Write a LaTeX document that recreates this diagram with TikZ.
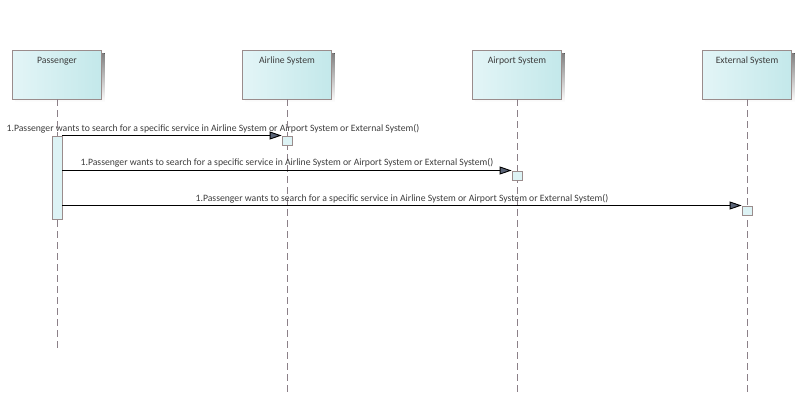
\documentclass[tikz,border=0pt]{standalone}
\usepackage{fontspec}
\setmainfont{Carlito}
\usetikzlibrary{arrows.meta}
\definecolor{boxedge}{HTML}{9A8C8C}
\definecolor{fillL}{HTML}{E3F5F7}
\definecolor{fillR}{HTML}{C3E8EA}
\definecolor{shade}{HTML}{D6D6D6}
\definecolor{lifeln}{HTML}{8C8088}
\definecolor{txt}{HTML}{3C3C3C}
\definecolor{headfill}{HTML}{5A6477}
\definecolor{actfill}{HTML}{DDF3F5}
\tikzset{
  x=1pt, y=-1pt,
  role/.style={draw=boxedge, line width=0.8pt, left color=fillL, right color=fillR,
    minimum width=89pt, minimum height=49pt, inner sep=0pt},
  rolelabel/.style={text=txt, font=\fontsize{9.7}{11}\selectfont, inner sep=0pt, anchor=base},
  lifeline/.style={draw=lifeln, line width=0.8pt, dash pattern=on 7pt off 4pt},
  actbar/.style={draw=boxedge, fill=actfill, line width=0.8pt, inner sep=0pt, minimum width=10pt},
  msg/.style={draw=black, line width=0.9pt,
    -{Triangle[length=12pt,width=8pt,fill=headfill]}},
  msglabel/.style={text=txt, font=\fontsize{9.7}{11}\selectfont, inner sep=0pt, anchor=base},
}
\begin{document}
\begin{tikzpicture}
\useasboundingbox (0,0) rectangle (802,400);
% shadows behind the role boxes
\foreach \cx in {57,287,517,747}
  \fill[shade] (\cx-44.5+3,50+3) rectangle (\cx+44.5+3,99+3);
% role boxes
\node[role] (pass) at (57,74.5) {};
\node[role] (airl) at (287,74.5) {};
\node[role] (airp) at (517,74.5) {};
\node[role] (ext) at (747,74.5) {};
\node[rolelabel] at (57,63) {Passenger};
\node[rolelabel] at (287,63) {Airline System};
\node[rolelabel] at (517,63) {Airport System};
\node[rolelabel] at (747,63) {External System};
% lifeline ends
\coordinate (passEnd) at (57,350);
\coordinate (airlEnd) at (287,392);
\coordinate (airpEnd) at (517,392);
\coordinate (extEnd) at (747,392);
\draw[lifeline] (pass.south) -- (passEnd);
\draw[lifeline] (airl.south) -- (airlEnd);
\draw[lifeline] (airp.south) -- (airpEnd);
\draw[lifeline] (ext.south) -- (extEnd);
% activations
\node[actbar, minimum height=83pt] (passAct) at (57,177.5) {};
\node[actbar, minimum height=9pt, anchor=north] (airlAct) at (287,135.5) {};
\node[actbar, minimum height=9pt, anchor=north] (airpAct) at (517,170.5) {};
\node[actbar, minimum height=9pt, anchor=north] (extAct) at (747,205.5) {};
% messages
\draw[msg] (passAct.east |- 0,135.5) -- (airlAct.north west);
\draw[msg] (passAct.east |- 0,170.5) -- (airpAct.north west);
\draw[msg] (passAct.east |- 0,205.5) -- (extAct.north west);
\node[msglabel] (m1) at (213,131) {1.Passenger wants to search for a specific service in Airline System or Airport System or External System()};
\node[msglabel] (m2) at (287,165) {1.Passenger wants to search for a specific service in Airline System or Airport System or External System()};
\node[msglabel] (m3) at (402,201) {1.Passenger wants to search for a specific service in Airline System or Airport System or External System()};
\end{tikzpicture}
\end{document}
